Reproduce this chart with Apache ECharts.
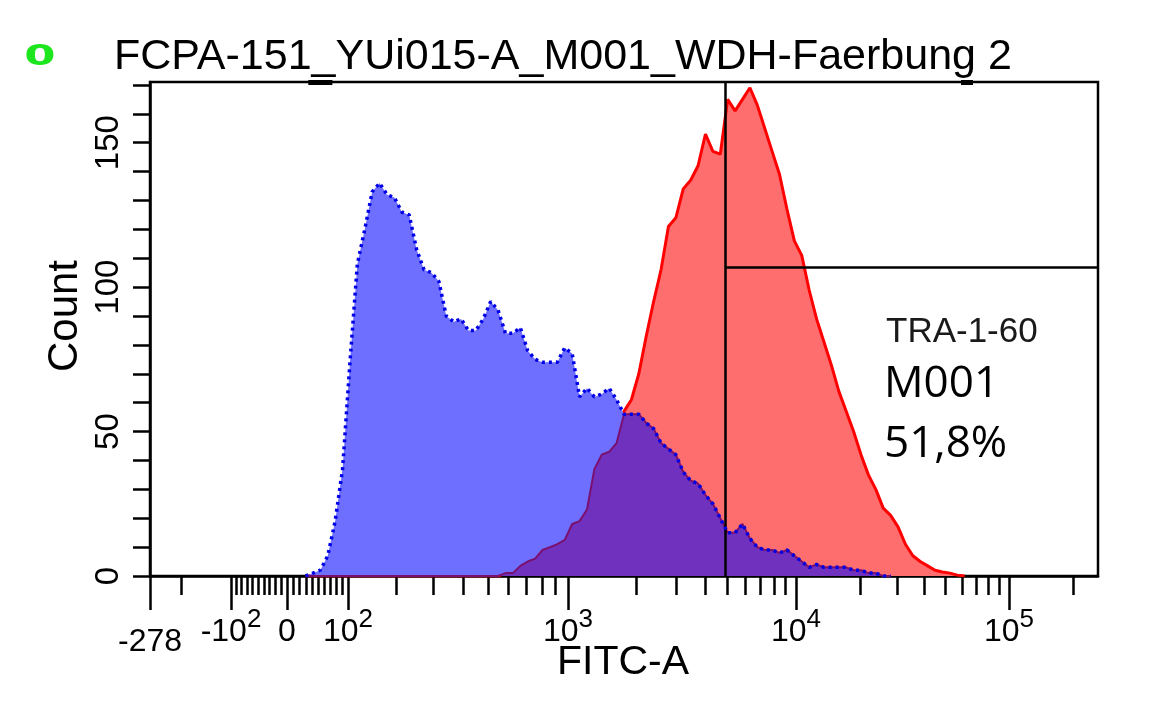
<!DOCTYPE html>
<html>
<head>
<meta charset="utf-8">
<script src="https://cdn.jsdelivr.net/npm/echarts@6/dist/echarts.min.js"></script>
<style>
html,body{margin:0;padding:0;background:#ffffff;}
#chart{width:1164px;height:703px;}
</style>
</head>
<body>
<div id="chart"></div>
<script>
// ---------- data (counts per display channel, 1024-channel FITC-A scale) ----------
const binStart = 168;
const binWidth = 8;
const blueCounts = [0,1,2,7,19,37,74,108,120,133,136,132,131,126,125,113,106,105,102,90,88,89,85,85,89,95,92,84,84,86,78,75,74,74,74,79,77,62,65,62,63,65,61,56,56,56,53,51,46,44,42,36,33,32,28,25,20,15,15,18,13,10,9,9,8,9,7,5,3,4,3,3,3,3,2,2,1,1,0,0];
const redCounts = [0,0,0,0,0,0,0,0,0,0,0,0,0,0,0,0,0,0,0,0,0,0,0,0,0,0,
  0,1,1,3.5,5,6,9,10,11,12.5,18,19,23,37,42,43,46,57,61,70,83,95,106,121,124,134,137,142,153,147,146,165,161,165,169,163,155,147,139,127,116,111,99,89,81,73,64,57,50,42,35,30,23.5,21,17,11,7,5,3.5,2,1.4,1,0.3,0];

// axis scale: fluorescence value -> display channel (anchors of the biexponential display)
const scaleAnchorValues   = [-278, -100, 0, 100, 1000, 10000, 100000];
const scaleAnchorChannels = [0, 87.5, 148, 213.9, 451.5, 697.8, 927.9];
const channelMax = 1024;

const majorTickValues = [-278, -100, 0, 100, 1000, 10000, 100000];
const majorTickLabels = ['-278', '-10^2', '0', '10^2', '10^3', '10^4', '10^5'];
const minorTickValues = [-200,
  -90,-80,-70,-60,-50,-40,-30,-20,-10,
  10,20,30,40,50,60,70,80,90,
  200,300,400,500,600,700,800,900,
  2000,3000,4000,5000,6000,7000,8000,9000,
  20000,30000,40000,50000,60000,70000,80000,90000,
  200000];

const yMax = 171;
const yTickValues = [0,10,20,30,40,50,60,70,80,90,100,110,120,130,140,150,160,170];
const yLabelValues = [0,50,100,150];

const gateChannel = 621;
const gateCount = 107;
// range markers on the top frame (display channels)
const topMarkers = [[171, 197], [876, 889]];

const titleText = 'FCPA-151_YUi015-A_M001_WDH-Faerbung 2';
const markerName = 'TRA-1-60';
const gateName = 'M001';
const gatePercent = '51,8%';

// ---------- helpers ----------
function sAsinh(v){ return Math.asinh(v/200); }
const anchorS = scaleAnchorValues.map(sAsinh);
function toChannel(v){
  const s = sAsinh(v);
  let i = 0;
  while (i < anchorS.length-2 && s > anchorS[i+1]) i++;
  const t = (s - anchorS[i])/(anchorS[i+1]-anchorS[i]);
  return scaleAnchorChannels[i] + t*(scaleAnchorChannels[i+1]-scaleAnchorChannels[i]);
}
const majorCh = majorTickValues.map(toChannel);
const minorCh = minorTickValues.map(toChannel);

function pairs(arr){ return arr.map((c,i)=>[binStart+i*binWidth, c]); }
const blueData = pairs(blueCounts);
const redData = pairs(redCounts);
const overlapData = blueCounts.map((b,i)=>[binStart+i*binWidth, Math.min(b, redCounts[i])]);

function labelFor(value){
  let best = 0, bd = Infinity;
  majorCh.forEach((c,i)=>{ const d=Math.abs(c-value); if(d<bd){bd=d;best=i;} });
  const lab = majorTickLabels[best];
  if (lab === '-278') return '{low|-278}';
  const p = lab.split('^');
  if (p.length === 2) return '{b|' + p[0] + '}{s|' + p[1] + '}';
  return '{b|' + lab + '}';
}

const FONT = '"Liberation Sans", Arial, sans-serif';

const chart = echarts.init(document.getElementById('chart'), null, {renderer:'canvas'});
const option = {
  animation: false,
  backgroundColor: '#ffffff',
  grid: {left:150, right:66, top:82, bottom:127, show:true, borderColor:'#000', borderWidth:2.5, backgroundColor:'transparent'},
  xAxis: [
    {
      type:'value', min:0, max:channelMax, position:'bottom',
      axisLine:{show:true, lineStyle:{color:'#000', width:2.5}},
      splitLine:{show:false},
      axisTick:{show:true, inside:false, length:34, customValues: majorCh, lineStyle:{color:'#000', width:2.5}},
      axisLabel:{
        show:true, customValues: majorCh, margin:31, color:'#000',
        formatter: labelFor,
        rich:{
          b:{fontSize:32, fontFamily:FONT, color:'#000', lineHeight:50},
          s:{fontSize:26, fontFamily:FONT, color:'#000', lineHeight:24, verticalAlign:'top'},
          low:{fontSize:32, fontFamily:FONT, color:'#000', lineHeight:50, padding:[20,0,0,0]}
        }
      }
    },
    {
      type:'value', min:0, max:channelMax, position:'bottom', gridIndex:0,
      axisLine:{show:false}, splitLine:{show:false}, axisLabel:{show:false},
      axisTick:{show:true, inside:false, length:19, customValues: minorCh, lineStyle:{color:'#000', width:2.5}}
    }
  ],
  yAxis: {
    type:'value', min:0, max:yMax,
    axisLine:{show:true, lineStyle:{color:'#000', width:2.5}},
    splitLine:{show:false},
    axisTick:{show:true, inside:false, length:17, customValues: yTickValues, lineStyle:{color:'#000', width:2.5}},
    axisLabel:{show:true, customValues: yLabelValues, rotate:90, margin:25, fontSize:33, fontFamily:FONT, color:'#000'}
  },
  series: [
    {
      name:'red', type:'line', xAxisIndex:0, data: redData, symbol:'none', z:2,
      lineStyle:{color:'#ff0000', width:3},
      areaStyle:{color:'#ff6e6e', opacity:1}
    },
    {
      name:'blue', type:'line', xAxisIndex:0, data: blueData, symbol:'none', z:3,
      lineStyle:{width:0},
      areaStyle:{color:'#6e6eff', opacity:1}
    },
    {
      name:'overlap', type:'line', xAxisIndex:0, data: overlapData, symbol:'none', z:4,
      lineStyle:{color:'#7a1070', width:2},
      areaStyle:{color:'#6f31be', opacity:1}
    },
    {
      name:'blueOutline', type:'line', xAxisIndex:0, data: blueData, symbol:'none', z:5,
      lineStyle:{color:'#0000e6', width:3.5, type:[3,4]},
      markLine:{
        silent:true, symbol:'none', animation:false,
        label:{show:false},
        lineStyle:{color:'#000', width:2.5, type:'solid'},
        data:[
          {xAxis: gateChannel},
          [{coord:[gateChannel, gateCount]}, {coord:[channelMax, gateCount]}]
        ].concat(topMarkers.map(m => [
          {coord:[m[0], yMax], lineStyle:{width:5}}, {coord:[m[1], yMax]}
        ]))
      }
    }
  ],
  graphic: [
    {type:'text', x:40, y:57, scaleX:1.55, style:{text:'0', font:'bold 29px "DejaVu Sans", sans-serif', fill:'#1ee61e', align:'center', verticalAlign:'middle'}},
    {type:'text', x:114, y:57.5, style:{text:titleText, font:'43px ' + FONT, fill:'#000', align:'left', verticalAlign:'middle'}},
    {type:'text', x:65, y:316, rotation:Math.PI/2, style:{text:'Count', font:'42px ' + FONT, fill:'#000', align:'center', verticalAlign:'middle'}},
    {type:'text', x:623, y:663, style:{text:'FITC-A', font:'41px ' + FONT, fill:'#000', align:'center', verticalAlign:'middle'}},
    {type:'text', x:886, y:332.5, style:{text:markerName, font:'35px ' + FONT, fill:'#1a1a1a', align:'left', verticalAlign:'middle'}},
    {type:'text', x:884, y:384, style:{text:gateName, font:'44px "Open Sans", sans-serif', fill:'#000', align:'left', verticalAlign:'middle'}},
    {type:'text', x:884, y:444, style:{text:gatePercent, font:'44px "Open Sans", sans-serif', fill:'#000', align:'left', verticalAlign:'middle'}}
  ]
};
chart.setOption(option);
</script>
</body>
</html>
